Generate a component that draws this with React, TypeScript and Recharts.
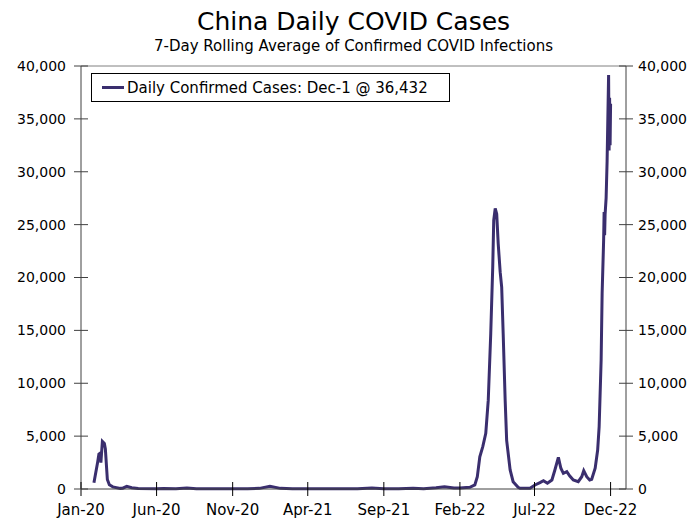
import { LineChart, Line, XAxis, YAxis, ReferenceLine } from 'recharts';

const dates = [
  '2020-01-27', '2020-02-03', '2020-02-06', '2020-02-09', '2020-02-10', '2020-02-13', '2020-02-17',
  '2020-02-19', '2020-02-23', '2020-02-27', '2020-03-05', '2020-03-20', '2020-03-25', '2020-04-02',
  '2020-04-12', '2020-04-25', '2020-06-01', '2020-06-15', '2020-07-10', '2020-08-01', '2020-08-20',
  '2020-10-01', '2020-12-01', '2020-12-25', '2021-01-15', '2021-02-05', '2021-03-01', '2021-05-01',
  '2021-06-10', '2021-07-10', '2021-08-08', '2021-09-01', '2021-10-01', '2021-10-30', '2021-11-20',
  '2021-12-15', '2022-01-01', '2022-01-20', '2022-02-01', '2022-02-14', '2022-02-21', '2022-03-03',
  '2022-03-08', '2022-03-13', '2022-03-19', '2022-03-25', '2022-03-30', '2022-04-04', '2022-04-08',
  '2022-04-10', '2022-04-13', '2022-04-16', '2022-04-19', '2022-04-23', '2022-04-26', '2022-04-29',
  '2022-05-03', '2022-05-06', '2022-05-13', '2022-05-19', '2022-05-29', '2022-06-02', '2022-06-22',
  '2022-07-02', '2022-07-12', '2022-07-19', '2022-07-27', '2022-08-05', '2022-08-11', '2022-08-18',
  '2022-08-23', '2022-08-28', '2022-09-04', '2022-09-10', '2022-09-17', '2022-09-27', '2022-10-04',
  '2022-10-08', '2022-10-14', '2022-10-20', '2022-10-24', '2022-10-31', '2022-11-05', '2022-11-08',
  '2022-11-12', '2022-11-14', '2022-11-17', '2022-11-18', '2022-11-19', '2022-11-20', '2022-11-22',
  '2022-11-24', '2022-11-27', '2022-11-28', '2022-11-29', '2022-11-30', '2022-12-01',
];

const cases = [
  600, 2400, 3300, 3400, 2500, 4500, 4300,
  3800, 900, 400, 200, 60, 80, 250,
  120, 40, 20, 40, 20, 100, 30,
  20, 20, 60, 250, 60, 15, 15,
  30, 20, 100, 30, 20, 80, 30,
  120, 220, 100, 100, 150, 160, 380,
  1160, 3050, 4000, 5270, 8400, 14700, 21000,
  25400, 26540, 26000, 23200, 20500, 19100, 14700,
  8400, 4600, 1800, 690, 160, 70, 70,
  380, 600, 790, 540, 850, 1800, 3000,
  1960, 1480, 1640, 1230, 850, 690, 1160,
  1730, 1160, 850, 920, 1960, 3690, 5890,
  12200, 18500, 23500, 26200, 24000, 26000, 27500,
  31000, 39150, 32000, 37000, 32500, 36432,
];

const tickDates = ['2020-01-01', '2020-06-01', '2020-11-01', '2021-04-01', '2021-09-01', '2022-02-01', '2022-07-01', '2022-12-01'];
const tickLabels = ['Jan-20', 'Jun-20', 'Nov-20', 'Apr-21', 'Sep-21', 'Feb-22', 'Jul-22', 'Dec-22'];
const yTicks = [0, 5000, 10000, 15000, 20000, 25000, 30000, 35000, 40000];

const dayIndex = (s: string) => {
  const [y, m, d] = s.split('-').map(Number);
  return (Date.UTC(y, m - 1, d) - Date.UTC(2020, 0, 1)) / 86400000;
};

const data = dates.map((d, i) => ({ day: dayIndex(d), cases: cases[i] }));
const tickDays = tickDates.map(dayIndex);
const xMax = dayIndex('2023-01-01');

const lineColor = '#3a2e6e';
const axisColor = '#404040';
const font = 'DejaVu Sans';
const fmt = (v: number) => v.toLocaleString('en-US');

const LeftTick = ({ x, y, payload }: any) => {
  const ax = x + 15;
  return (
    <g>
      <line x1={ax - 7} x2={ax + 7} y1={y} y2={y} stroke={axisColor} />
      <text x={x} y={y} dy="0.355em" textAnchor="end" fontSize={14} fontFamily={font} fill="#000">
        {fmt(payload.value)}
      </text>
    </g>
  );
};

const RightTick = ({ x, y, payload }: any) => {
  const ax = x - 12;
  return (
    <g>
      <line x1={ax - 7} x2={ax + 7} y1={y} y2={y} stroke={axisColor} />
      <text x={x} y={y} dy="0.355em" textAnchor="start" fontSize={14} fontFamily={font} fill="#000">
        {fmt(payload.value)}
      </text>
    </g>
  );
};

const BottomTick = ({ x, y, payload }: any) => {
  const ay = y - 15;
  const label = tickLabels[tickDays.indexOf(payload.value)];
  return (
    <g>
      <line x1={x} x2={x} y1={ay - 7} y2={ay + 7} stroke="#000" />
      <text x={x} y={y} dy="0.71em" textAnchor="middle" fontSize={15} fontFamily={font} fill="#000">
        {label}
      </text>
    </g>
  );
};

export default function App() {
  return (
    <div style={{ position: 'absolute', left: 0, top: 0, width: 699, height: 518, background: '#fff' }}>
      <div
        style={{
          position: 'absolute', left: 81, width: 545, top: 5, textAlign: 'center',
          fontFamily: font, fontSize: 25, color: '#000', lineHeight: '34px',
        }}
      >
        China Daily COVID Cases
      </div>
      <div
        style={{
          position: 'absolute', left: 81, width: 545, top: 37, textAlign: 'center',
          fontFamily: font, fontSize: 15, color: '#000', lineHeight: '18px',
        }}
      >
        7-Day Rolling Average of Confirmed COVID Infections
      </div>
      <LineChart width={699} height={518} data={data} margin={{ top: 66, right: 0, bottom: 0, left: 0 }}>
        <XAxis
          dataKey="day"
          type="number"
          domain={[0, xMax]}
          ticks={tickDays}
          interval={0}
          tickSize={7}
          tickMargin={8}
          tickLine={false}
          tick={<BottomTick />}
          height={29}
          stroke={axisColor}
        />
        <YAxis
          yAxisId="left"
          domain={[0, 40000]}
          ticks={yTicks}
          interval={0}
          width={81}
          tickSize={7}
          tickMargin={8}
          tickLine={false}
          tick={<LeftTick />}
          stroke={axisColor}
        />
        <YAxis
          yAxisId="right"
          orientation="right"
          domain={[0, 40000]}
          ticks={yTicks}
          interval={0}
          width={73}
          tickSize={7}
          tickMargin={5}
          tickLine={false}
          tick={<RightTick />}
          stroke={axisColor}
        />
        <ReferenceLine yAxisId="left" y={40000} stroke="#808080" />
        {/* invisible copy so the right axis gets its ticks */}
        <Line
          yAxisId="right"
          dataKey="cases"
          stroke="none"
          dot={false}
          activeDot={false}
          isAnimationActive={false}
        />
        <Line
          yAxisId="left"
          type="linear"
          dataKey="cases"
          stroke={lineColor}
          strokeWidth={3}
          dot={false}
          isAnimationActive={false}
        />
      </LineChart>
      <div
        style={{
          position: 'absolute', left: 91, top: 73, width: 359, height: 29, border: '1px solid #000',
          background: '#fff', display: 'flex', alignItems: 'center', boxSizing: 'border-box',
          fontFamily: font, fontSize: 15, color: '#000',
        }}
      >
        <span style={{ display: 'inline-block', width: 22, height: 3, background: lineColor, marginLeft: 10, marginRight: 3 }} />
        Daily Confirmed Cases: Dec-1 @ 36,432
      </div>
    </div>
  );
}
